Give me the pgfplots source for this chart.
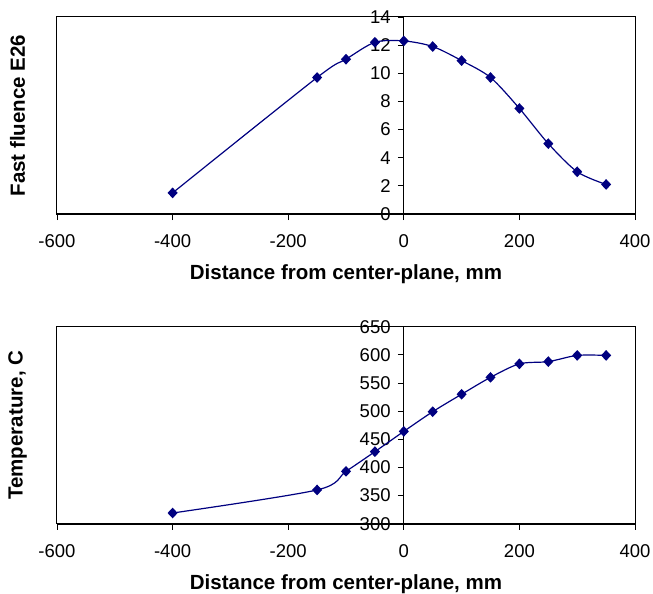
\documentclass[border=0pt]{standalone}
\usepackage{fontspec}
\setmainfont{Liberation Sans}
\usepackage{pgfplots}
\pgfplotsset{compat=1.18}
\definecolor{navy}{RGB}{0,0,128}

\pgfplotsset{
 myaxis/.style={
  scale only axis, width=578pt, height=197pt,
  axis x line=bottom, axis y line=middle,
  axis line style={-, black},
  x axis line style={line width=1.8pt},
  y axis line style={line width=1.1pt},
  xmin=-600, xmax=400, xtick={-600,-400,...,400},
  hide obscured x ticks=false, hide obscured y ticks=false,
  tick align=outside, major tick length=6pt,
  tick style={black, line width=0.9pt},
  /pgf/number format/assume math mode=true,
  ticklabel style={font=\fontsize{18.5}{20}\selectfont},
  xticklabel style={anchor=north, yshift=-11pt},
  yticklabel style={anchor=east, inner sep=1pt, xshift=-6pt},
  every axis x label/.style={at={(axis description cs:0.5,0)}, anchor=center, yshift=-60pt, font=\fontsize{20.5}{24}\selectfont\bfseries},
  every axis y label/.style={at={([xshift=-39.5pt]axis description cs:0,0.5)}, anchor=center, rotate=90, font=\fontsize{20.5}{24}\selectfont\bfseries},
  xlabel={Distance from center-plane, mm},
  clip=false,
 },
 myplot/.style={navy, line width=1.2pt, smooth, tension=0.5, mark=diamond*, mark size=4.5pt, mark options={fill=navy, solid, xscale=1.25}},
}

\begin{document}
\begin{tikzpicture}
\begin{axis}[myaxis, ymin=0, ymax=14, ytick={0,2,...,14}, ylabel={Fast fluence E26}]
\draw[line width=1pt] (rel axis cs:0,0) rectangle (rel axis cs:1,1);
\addplot[myplot] coordinates {
(-400,1.5) (-150,9.7) (-100,11.0) (-50,12.2) (0,12.3) (50,11.9) (100,10.9) (150,9.7) (200,7.5) (250,5.0) (300,3.0) (350,2.1)
};
\end{axis}
\begin{axis}[myaxis, at={(0,-309.7pt)}, ymin=300, ymax=650, ytick={300,350,...,650}, ylabel={Temperature, C}]
\draw[line width=1pt] (rel axis cs:0,0) rectangle (rel axis cs:1,1);
\addplot[myplot] coordinates {
(-400,319) (-150,360) (-100,393) (-50,428) (0,464) (50,499) (100,530) (150,560) (200,584) (250,588) (300,599) (350,599)
};
\end{axis}
\pgfresetboundingbox
\path (-57pt,-380pt) rectangle (596pt,214pt);
\end{tikzpicture}
\end{document}
